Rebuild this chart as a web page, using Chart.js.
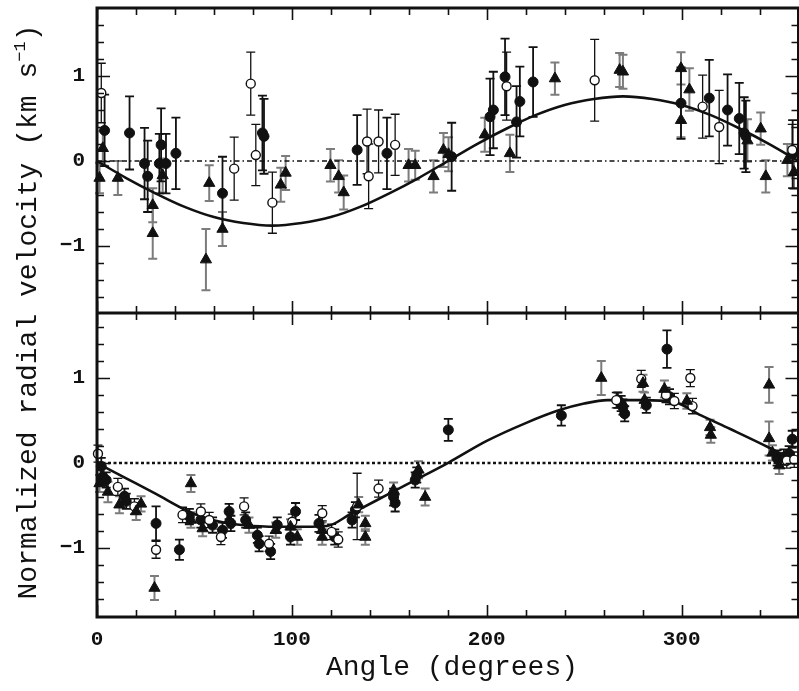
<!DOCTYPE html>
<html>
<head>
<meta charset="utf-8">
<script src="https://cdn.jsdelivr.net/npm/chart.js@4.4.1/dist/chart.umd.min.js"></script>
<style>
  html, body { margin: 0; padding: 0; background: #fff; overflow: hidden; }
  #wrap { width: 799px; height: 691px; overflow: hidden; position: relative; }
  #rv { display: block; }
</style>
</head>
<body>
<div id="wrap"><canvas id="rv" width="806" height="691"></canvas></div>
<script>
// ---- axis ticks ----
const xTickValues = [0, 20, 40, 60, 80, 100, 120, 140, 160, 180, 200, 220, 240, 260, 280, 300, 320, 340, 360];
const yTickValues = [-1.6, -1.4, -1.2, -1, -0.8, -0.6, -0.4, -0.2, 0, 0.2, 0.4, 0.6, 0.8, 1, 1.2, 1.4, 1.6];
const xLabelTicks = [0, 100, 200, 300];
const yLabelTicks = [-1, 0, 1];

// ---- upper panel: measurements ----
const topFilledX = [3.9, 16.7, 24.4, 26.0, 32.0, 32.9, 35.4, 40.5, 64.4, 84.9, 85.7, 133.5, 148.8, 182.0, 201.7, 203.4, 209.4, 215.3, 217.0, 223.8, 299.7, 314.2, 323.6, 329.6, 332.1, 333.0, 357.0];
const topFilledY = [0.36, 0.33, -0.03, -0.18, -0.03, 0.19, -0.03, 0.09, -0.38, 0.33, 0.29, 0.13, 0.09, 0.05, 0.52, 0.60, 0.99, 0.46, 0.70, 0.93, 0.68, 0.74, 0.60, 0.50, 0.33, 0.29, 0.08];
const topFilledErr = [0.42, 0.43, 0.42, 0.42, 0.35, 0.43, 0.35, 0.42, 0.43, 0.44, 0.44, 0.41, 0.42, 0.40, 0.45, 0.45, 0.45, 0.42, 0.41, 0.41, 0.42, 0.45, 0.42, 0.42, 0.42, 0.42, 0.40];

const topOpenX = [2.2, 70.4, 78.9, 81.5, 90.0, 138.6, 139.4, 144.5, 153.0, 210.2, 255.4, 310.8, 319.3, 356.8];
const topOpenY = [0.80, -0.09, 0.91, 0.07, -0.49, 0.23, -0.18, 0.23, 0.19, 0.88, 0.95, 0.64, 0.40, 0.13];
const topOpenErr = [0.35, 0.37, 0.37, 0.36, 0.36, 0.38, 0.38, 0.37, 0.36, 0.40, 0.48, 0.37, 0.43, 0.30];

const topTriX = [1.3, 3.0, 10.7, 28.6, 28.6, 33.7, 55.9, 57.6, 64.4, 94.3, 96.8, 119.8, 124.0, 126.6, 159.9, 163.3, 172.7, 177.8, 180.4, 199.0, 211.9, 235.0, 268.2, 269.9, 299.7, 299.7, 304.0, 333.8, 340.6, 343.2, 354.3, 357.7];
const topTriY = [-0.20, 0.15, -0.20, -0.52, -0.85, -0.17, -1.16, -0.26, -0.80, -0.28, -0.14, -0.05, -0.18, -0.37, -0.05, -0.05, -0.18, 0.13, 0.08, 0.31, 0.09, 0.97, 1.07, 1.05, 1.09, 0.48, 0.84, 0.24, 0.38, -0.18, 0.01, -0.13];
const topTriErr = [0.18, 0.20, 0.20, 0.20, 0.30, 0.20, 0.36, 0.21, 0.20, 0.20, 0.20, 0.19, 0.19, 0.20, 0.19, 0.17, 0.19, 0.20, 0.20, 0.20, 0.22, 0.19, 0.20, 0.20, 0.19, 0.20, 0.25, 0.25, 0.19, 0.19, 0.19, 0.20];

// upper panel: fitted curve
const topCurveX = [0, 15, 30, 45, 60, 75, 90, 105, 120, 135, 150, 165, 180, 195, 210, 225, 240, 255, 270, 285, 300, 315, 330, 345, 360];
const topCurveY = [0, -0.20, -0.38, -0.54, -0.66, -0.73, -0.76, -0.73, -0.66, -0.54, -0.38, -0.20, 0, 0.20, 0.38, 0.54, 0.66, 0.73, 0.76, 0.73, 0.66, 0.54, 0.38, 0.20, 0];

// ---- lower panel: measurements ----
const botFilledX = [2.2, 3.0, 4.7, 14.1, 15.0, 30.3, 42.3, 47.4, 53.3, 59.3, 64.4, 67.8, 68.7, 76.3, 82.3, 83.2, 89.1, 92.5, 99.3, 101.9, 113.9, 122.0, 130.9, 132.6, 152.2, 153.0, 163.3, 164.1, 180.3, 238.3, 267.3, 269.0, 269.9, 270.8, 281.9, 292.5, 293.8, 349.0, 352.5, 355.2, 356.8];
const botFilledY = [-0.04, -0.16, -0.20, -0.39, -0.45, -0.71, -1.02, -0.63, -0.67, -0.73, -0.79, -0.57, -0.71, -0.67, -0.85, -0.95, -1.04, -0.73, -0.87, -0.57, -0.71, -0.87, -0.67, -0.55, -0.40, -0.47, -0.20, -0.14, 0.39, 0.56, 0.74, 0.70, 0.66, 0.58, 0.68, 1.34, 0.78, 0.06, 0.07, 0.11, 0.28];
const botFilledErr = [0.10, 0.10, 0.09, 0.09, 0.09, 0.20, 0.12, 0.09, 0.09, 0.09, 0.09, 0.09, 0.09, 0.09, 0.09, 0.09, 0.09, 0.09, 0.09, 0.10, 0.10, 0.09, 0.09, 0.09, 0.10, 0.10, 0.09, 0.09, 0.13, 0.12, 0.09, 0.09, 0.09, 0.09, 0.09, 0.22, 0.09, 0.09, 0.09, 0.09, 0.10];

const botOpenX = [0.5, 10.7, 19.2, 30.3, 43.9, 53.3, 57.6, 63.6, 75.5, 88.3, 100.2, 115.6, 120.4, 123.8, 133.5, 144.5, 266.5, 279.3, 292.0, 296.3, 304.5, 305.6, 354.0, 357.8];
const botOpenY = [0.11, -0.28, -0.51, -1.02, -0.61, -0.57, -0.67, -0.87, -0.51, -0.95, -0.69, -0.59, -0.81, -0.90, -0.51, -0.30, 0.74, 0.99, 0.80, 0.73, 1.00, 0.67, 0.03, 0.04];
const botOpenErr = [0.10, 0.10, 0.09, 0.10, 0.09, 0.09, 0.09, 0.09, 0.10, 0.09, 0.09, 0.09, 0.09, 0.09, 0.39, 0.10, 0.09, 0.10, 0.09, 0.09, 0.10, 0.09, 0.09, 0.09];

const botTriX = [1.3, 5.6, 11.5, 20.1, 22.6, 29.5, 48.2, 48.2, 54.2, 67.8, 78.0, 91.7, 99.3, 102.8, 115.5, 115.6, 134.3, 137.7, 137.7, 152.2, 165.0, 168.4, 258.8, 280.2, 281.0, 291.2, 302.7, 314.6, 315.0, 344.9, 344.9, 346.6, 350.1];
const botTriY = [-0.24, -0.34, -0.49, -0.57, -0.48, -1.47, -0.24, -0.67, -0.77, -0.67, -0.73, -0.79, -0.75, -0.87, -0.79, -0.87, -0.49, -0.71, -0.87, -0.32, -0.08, -0.40, 1.00, 0.94, 0.74, 0.87, 0.73, 0.42, 0.33, 0.92, 0.29, 0.12, -0.03];
const botTriErr = [0.10, 0.12, 0.10, 0.10, 0.09, 0.14, 0.10, 0.09, 0.09, 0.09, 0.09, 0.09, 0.09, 0.09, 0.09, 0.09, 0.09, 0.09, 0.09, 0.09, 0.10, 0.10, 0.20, 0.10, 0.09, 0.10, 0.09, 0.09, 0.09, 0.21, 0.20, 0.09, 0.10];

// lower panel: fitted curve
const botCurveX = [0, 15, 30, 47, 55, 65, 80, 100, 118, 130, 150, 165, 180, 200, 220, 237, 250, 262, 280, 296, 310, 325, 345, 360];
const botCurveY = [0, -0.18, -0.36, -0.57, -0.64, -0.70, -0.74, -0.75, -0.74, -0.60, -0.36, -0.18, 0, 0.26, 0.47, 0.62, 0.70, 0.74, 0.74, 0.72, 0.56, 0.40, 0.18, 0];

// ---- helpers ----
const pts = (xs, ys, es) => xs.map((x, i) => ({ x, y: ys[i], err: es ? es[i] : 0 }));
const INK = '#111';
const MONO = "'Liberation Mono', 'DejaVu Sans Mono', monospace";

function markerSet(xs, ys, es, axis, style) {
  const base = {
    data: pts(xs, ys, es), yAxisID: axis, showLine: false, order: 0,
    clip: { left: 8, right: 8, top: 2, bottom: 2 },
    errorBars: true, errorColor: INK, errorWidth: 1.8, errorCap: 4.5
  };
  if (style === 'filled') return Object.assign(base, { pointStyle: 'circle', pointRadius: 5, backgroundColor: INK, borderColor: INK, borderWidth: 1 });
  if (style === 'open') return Object.assign(base, { pointStyle: 'circle', pointRadius: 4.5, backgroundColor: '#fff', borderColor: INK, borderWidth: 1.4, errorWidth: 1.3 });
  return Object.assign(base, { pointStyle: 'triangle', pointRadius: 6.5, backgroundColor: INK, borderColor: INK, borderWidth: 1, errorColor: '#7c7c7c', errorWidth: 2 });
}
function curveSet(xs, ys, axis) {
  return { data: pts(xs, ys), yAxisID: axis, showLine: true, pointRadius: 0, borderColor: INK, borderWidth: 2.6, cubicInterpolationMode: 'monotone', order: 1 };
}
function zeroSet(axis, dash, width) {
  return { data: [{ x: 0, y: 0 }, { x: 360, y: 0 }], yAxisID: axis, showLine: true, pointRadius: 0, borderColor: INK, borderWidth: width, borderDash: dash, order: 2 };
}

// error bars drawn through each dataset's own scales
const errorBarPlugin = {
  id: 'errorBars',
  beforeDatasetsDraw(chart) {
    const ctx = chart.ctx;
    chart.data.datasets.forEach((ds, i) => {
      if (!ds.errorBars) return;
      const meta = chart.getDatasetMeta(i);
      const xs = chart.scales[meta.xAxisID];
      const ys = chart.scales[meta.yAxisID];
      ctx.save();
      ctx.strokeStyle = ds.errorColor;
      ctx.lineWidth = ds.errorWidth;
      ds.data.forEach(p => {
        const x = xs.getPixelForValue(p.x);
        const y1 = ys.getPixelForValue(p.y - p.err);
        const y2 = ys.getPixelForValue(p.y + p.err);
        const c = ds.errorCap;
        ctx.beginPath();
        ctx.moveTo(x, y1); ctx.lineTo(x, y2);
        ctx.moveTo(x - c, y1); ctx.lineTo(x + c, y1);
        ctx.moveTo(x - c, y2); ctx.lineTo(x + c, y2);
        ctx.stroke();
      });
      ctx.restore();
    });
  }
};

// boxed frame with inward tick marks on every side of both panels
const framePlugin = {
  id: 'frame',
  afterDraw(chart) {
    const { ctx, chartArea: a, scales } = chart;
    const xs = scales.x, yt = scales.yTop, yb = scales.yBot;
    const mid = Math.round(Math.min(yt.bottom, yb.bottom));
    ctx.save();
    ctx.strokeStyle = INK;
    ctx.lineWidth = 3;
    ctx.strokeRect(a.left, a.top, a.right - a.left, a.bottom - a.top);
    ctx.beginPath(); ctx.moveTo(a.left, mid); ctx.lineTo(a.right, mid); ctx.stroke();
    ctx.lineWidth = 1.6;
    ctx.beginPath();
    xTickValues.forEach(v => {
      const px = Math.round(xs.getPixelForValue(v)) + 0.5;
      const len = xLabelTicks.includes(v) ? 12 : 7;
      ctx.moveTo(px, a.top); ctx.lineTo(px, a.top + len);
      ctx.moveTo(px, mid - len); ctx.lineTo(px, mid + len);
      ctx.moveTo(px, a.bottom); ctx.lineTo(px, a.bottom - len);
    });
    [yt, yb].forEach(s => {
      yTickValues.forEach(v => {
        const py = Math.round(s.getPixelForValue(v)) + 0.5;
        const len = yLabelTicks.includes(v) ? 13 : 7;
        ctx.moveTo(a.left, py); ctx.lineTo(a.left + len, py);
        ctx.moveTo(a.right, py); ctx.lineTo(a.right - len, py);
      });
    });
    ctx.stroke();
    ctx.restore();
  }
};

// axis titles (the vertical one carries a superscript unit)
const titlePlugin = {
  id: 'titles',
  afterDraw(chart) {
    const { ctx } = chart;
    ctx.save();
    ctx.fillStyle = INK;
    ctx.textBaseline = 'middle';
    ctx.textAlign = 'center';
    ctx.font = '28px ' + MONO;
    ctx.fillText('Angle (degrees)', 452, 668);

    const main = 'Normalized radial velocity (km s', sup = '\u22121', tail = ')';
    const big = '28px ' + MONO, small = '17px ' + MONO;
    ctx.font = big; const w1 = ctx.measureText(main).width, w3 = ctx.measureText(tail).width;
    ctx.font = small; const w2 = ctx.measureText(sup).width;
    const total = w1 + w2 + w3;
    ctx.translate(29, 312);
    ctx.rotate(-Math.PI / 2);
    ctx.textAlign = 'left';
    const x0 = -total / 2;
    ctx.font = big; ctx.fillText(main, x0, 0);
    ctx.font = small; ctx.fillText(sup, x0 + w1, -9);
    ctx.font = big; ctx.fillText(tail, x0 + w1 + w2, 0);
    ctx.restore();
  }
};

const tickFont = { family: MONO, size: 21, weight: 'bold' };
const fmt = v => (v < 0 ? '\u2212' + Math.abs(v) : String(v));
function yScale(min, max) {
  return {
    type: 'linear', position: 'left', stack: 'panels', stackWeight: 1, min, max,
    grid: { display: false, drawTicks: false }, border: { display: false },
    ticks: { stepSize: 1, includeBounds: false, padding: 12, color: INK, font: tickFont, callback: fmt },
    afterFit(s) { s.width = 97; s.paddingTop = 0; s.paddingBottom = 0; }
  };
}

new Chart(document.getElementById('rv'), {
  type: 'scatter',
  data: {
    datasets: [
      markerSet(topTriX, topTriY, topTriErr, 'yTop', 'tri'),
      markerSet(topOpenX, topOpenY, topOpenErr, 'yTop', 'open'),
      markerSet(topFilledX, topFilledY, topFilledErr, 'yTop', 'filled'),
      markerSet(botTriX, botTriY, botTriErr, 'yBot', 'tri'),
      markerSet(botOpenX, botOpenY, botOpenErr, 'yBot', 'open'),
      markerSet(botFilledX, botFilledY, botFilledErr, 'yBot', 'filled'),
      curveSet(topCurveX, topCurveY, 'yTop'),
      curveSet(botCurveX, botCurveY, 'yBot'),
      zeroSet('yTop', [5, 3, 1.5, 3], 1.6),
      zeroSet('yBot', [3, 2.5], 2.6)
    ]
  },
  options: {
    responsive: false,
    animation: false,
    layout: { padding: { top: 8, right: 2, left: 0, bottom: 0 } },
    plugins: { legend: { display: false }, tooltip: { enabled: false } },
    scales: {
      x: {
        type: 'linear', position: 'bottom', min: 0, max: 360,
        grid: { display: false, drawTicks: false }, border: { display: false },
        ticks: { stepSize: 100, includeBounds: false, padding: 10, color: INK, font: tickFont, maxRotation: 0, callback: fmt },
        afterFit(s) { s.height = 74; s.paddingLeft = 0; s.paddingRight = 0; }
      },
      // stacked left axes: the one listed first is placed lowest
      yBot: yScale(-1.811, 1.771),
      yTop: yScale(-1.782, 1.8)
    }
  },
  plugins: [errorBarPlugin, framePlugin, titlePlugin]
});
</script>
</body>
</html>
